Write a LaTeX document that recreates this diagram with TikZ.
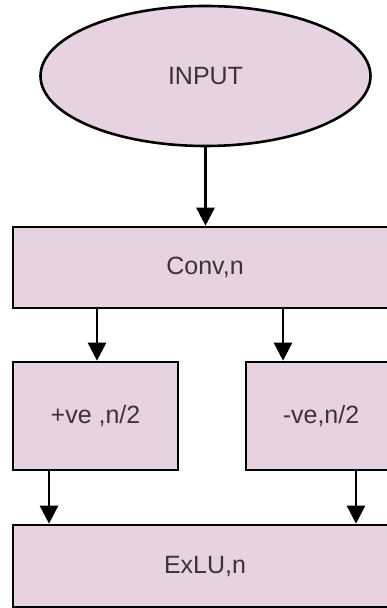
\documentclass[tikz,border=0pt]{standalone}
\usepackage{fontspec}
\setmainfont{Liberation Sans}
\usetikzlibrary{shapes.geometric,arrows.meta}
\definecolor{boxfill}{RGB}{230,210,224}
\definecolor{txt}{RGB}{58,52,56}
\tikzset{
  shapebase/.style={draw=black, line width=2.6pt, fill=boxfill, text=txt, font=\fontsize{25}{30}\selectfont, inner sep=0pt},
  boxnode/.style={shapebase, rectangle},
  ovalnode/.style={shapebase, ellipse},
  arr/.style={line width=2.6pt, -{Triangle[width=18pt,length=18pt]}}
}
\begin{document}
\begin{tikzpicture}[x=1pt,y=1pt]
\useasboundingbox (0,0) rectangle (387,608);
\clip (0,0) rectangle (387,608);
\node[ovalnode, minimum width=330pt, minimum height=140pt] (in) at (205.5,532) {INPUT};
\node[boxnode, minimum width=384pt, minimum height=81pt] (conv) at (205,340.5) {Conv,n};
\node[boxnode, minimum width=165pt, minimum height=108pt] (l) at (95.5,192) {+ve ,n/2};
\node[boxnode, minimum width=150pt, minimum height=108pt] (r) at (321,192) {-ve,n/2};
\node[boxnode, minimum width=384pt, minimum height=82pt] (ex) at (205,42) {ExLU,n};
\draw[arr] (in.south) -- (in.south |- conv.north);
\draw[arr] ([xshift=1.5pt]l.north |- conv.south) -- ([xshift=1.5pt]l.north);
\draw[arr] ([xshift=-38pt]r.north |- conv.south) -- ([xshift=-38pt]r.north);
\draw[arr] ([xshift=-46.5pt]l.south) -- ([xshift=-46.5pt]l.south |- ex.north);
\draw[arr] ([xshift=35pt]r.south) -- ([xshift=35pt]r.south |- ex.north);
\end{tikzpicture}
\end{document}
